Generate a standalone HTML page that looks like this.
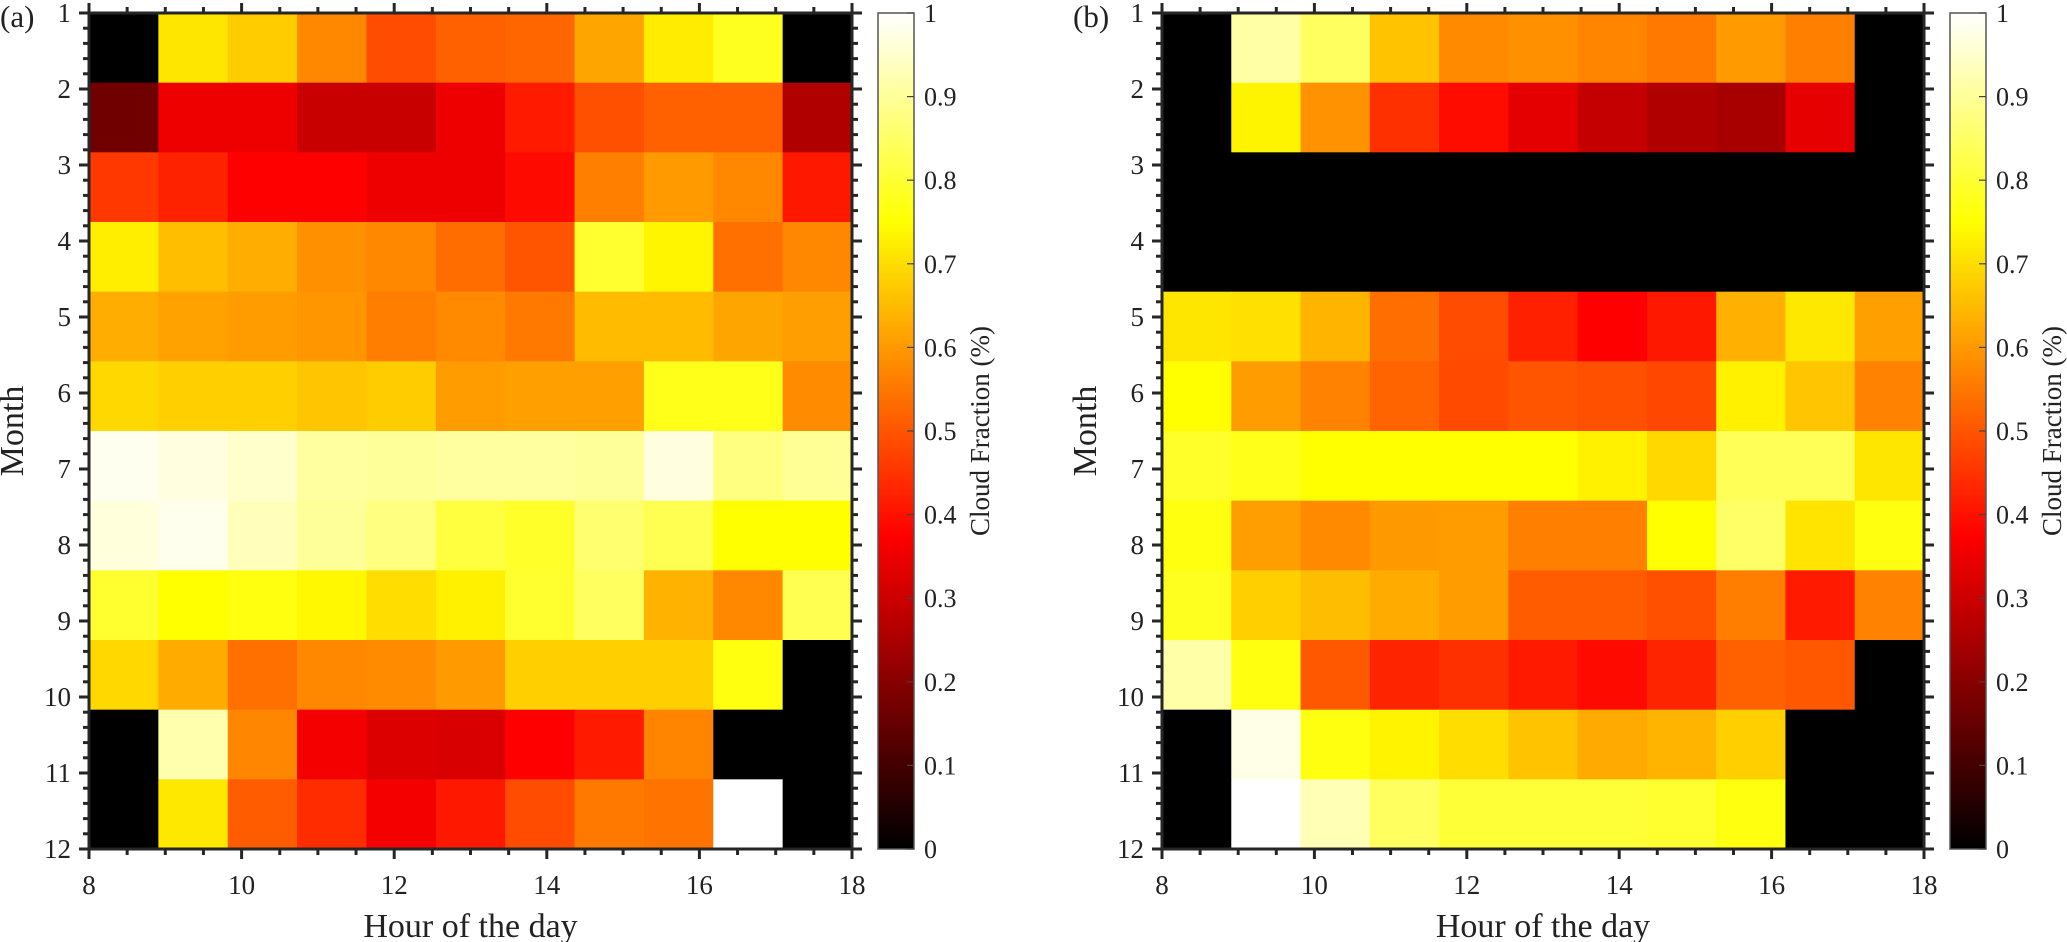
<!DOCTYPE html>
<html><head><meta charset="utf-8"><style>
html,body{margin:0;padding:0;background:#fff;}
svg{display:block;}
svg text{font-family:"Liberation Serif","DejaVu Serif",serif;}
</style></head><body>
<svg id="chart" width="2067" height="942" viewBox="0 0 2067 942" xmlns="http://www.w3.org/2000/svg" font-family="Liberation Serif, serif">
<defs>
<linearGradient id="hotgrad" x1="0" y1="1" x2="0" y2="0">
<stop offset="0" stop-color="#000"/><stop offset="0.375" stop-color="#f00"/><stop offset="0.75" stop-color="#ff0"/><stop offset="1" stop-color="#fff"/>
</linearGradient>
</defs>
</svg>
<script>
const hours = [8,9,10,11,12,13,14,15,16,17,18];
const months = [1,2,3,4,5,6,7,8,9,10,11,12];
const xTickLabels = [8,10,12,14,16,18];
const yTickLabels = [1,2,3,4,5,6,7,8,9,10,11,12];
const cbTickLabels = [0,0.1,0.2,0.3,0.4,0.5,0.6,0.7,0.8,0.9,1];
const valuesA = [
[0,.713,.675,.575,.487,.516,.525,.618,.722,.78,0],
[.165,.35,.35,.294,.294,.35,.413,.493,.516,.516,.259],
[.457,.425,.375,.375,.35,.35,.39,.563,.602,.575,.41],
[.725,.656,.63,.587,.575,.534,.5,.797,.736,.54,.575],
[.63,.613,.605,.596,.56,.578,.551,.65,.65,.618,.607],
[.693,.68,.68,.665,.675,.605,.61,.61,.775,.775,.58],
[.985,.97,.95,.907,.9,.907,.907,.9,.97,.875,.897],
[.966,.983,.933,.9,.875,.813,.79,.86,.83,.75,.75],
[.797,.75,.766,.74,.7,.73,.797,.844,.638,.575,.83],
[.693,.626,.54,.575,.58,.602,.68,.68,.68,.765,0],
[0,.92,.572,.36,.325,.318,.375,.413,.57,0,0],
[0,.716,.51,.44,.36,.41,.487,.551,.545,1,0]
];
const valuesB = [
[0,.912,.844,.662,.578,.587,.57,.551,.602,.562,0],
[0,.734,.59,.446,.393,.335,.29,.259,.247,.338,0],
[0,0,0,0,0,0,0,0,0,0,0],
[0,0,0,0,0,0,0,0,0,0,0],
[.713,.704,.64,.537,.487,.422,.375,.41,.634,.716,.61],
[.75,.605,.566,.522,.484,.5,.493,.48,.73,.666,.566],
[.79,.775,.75,.75,.75,.75,.73,.693,.836,.836,.713],
[.766,.607,.578,.6,.605,.562,.562,.75,.85,.71,.766],
[.78,.68,.653,.626,.605,.51,.51,.493,.56,.413,.566],
[.915,.766,.505,.428,.446,.413,.39,.428,.516,.505,0],
[0,.977,.766,.733,.7,.662,.625,.64,.68,0,0],
[0,1,.927,.844,.805,.805,.805,.797,.766,0,0]
];

const NS = "http://www.w3.org/2000/svg";
const svg = document.getElementById('chart');
const FF = 'Liberation Serif, DejaVu Serif, serif';
function mk(tag, attrs, parent){
  const e = document.createElementNS(NS, tag);
  for (const k in attrs) e.setAttribute(k, attrs[k]);
  if (tag==='text') e.setAttribute('font-family', FF);
  (parent||svg).appendChild(e);
  return e;
}
function hot(v){
  let r,g,b;
  if (v<=0.375){r=v/0.375;g=0;b=0;}
  else if (v<=0.75){r=1;g=(v-0.375)/0.375;b=0;}
  else {r=1;g=1;b=(v-0.75)/0.25;}
  const c=x=>Math.round(Math.max(0,Math.min(1,x))*255);
  return `rgb(${c(r)},${c(g)},${c(b)})`;
}
const TOP=13, BOT=849, AXC='#262626';
function panel(left, right, data, letter, key){
  const g = mk('g', {});
  
  
  const xS = h => left + (h-8)/10*(right-left);
  const yS = m => TOP + (m-1)/11*(BOT-TOP);
  const nC = hours.length, nR = months.length;
  const cw = (right-left)/nC, rh = (BOT-TOP)/nR;
  data.forEach((row,i)=>{
    row.forEach((v,j)=>{
      const r = mk('rect', {x:(left+j*cw).toFixed(2), y:(TOP+i*rh).toFixed(2), width:(cw+0.6).toFixed(2), height:(rh+0.6).toFixed(2), fill:hot(v)}, g);
      
      
    });
  });
  for (let h=8; h<=18.001; h+=0.5){
    const maj = Math.abs(h-Math.round(h/2)*2)<1e-6;
    const L = maj?10:6, x=xS(h);
    mk('line',{x1:x,y1:BOT,x2:x,y2:BOT+L,stroke:AXC,'stroke-width':3},g);
    mk('line',{x1:x,y1:TOP,x2:x,y2:TOP-L,stroke:AXC,'stroke-width':3},g);
  }
  for (let m=1; m<=12.001; m+=0.2){
    const maj = Math.abs(m-Math.round(m))<1e-6;
    const L = maj?10:6, y=yS(m);
    mk('line',{x1:left,y1:y,x2:left-L,y2:y,stroke:AXC,'stroke-width':3},g);
    mk('line',{x1:right,y1:y,x2:right+L,y2:y,stroke:AXC,'stroke-width':3},g);
  }
  const box = mk('rect',{x:left,y:TOP,width:right-left,height:BOT-TOP,fill:'none',stroke:AXC,'stroke-width':3},g);
  
  
  xTickLabels.forEach(h=>{
    const t = mk('text',{x:xS(h),y:894,'text-anchor':'middle','font-size':27,fill:'#222'},g);
    t.textContent = h;
    
    
  });
  yTickLabels.forEach(m=>{
    const t = mk('text',{x:left-18,y:yS(m)+9,'text-anchor':'end','font-size':27,fill:'#222'},g);
    t.textContent = m;
    
    
  });
  const xt = mk('text',{x:(left+right)/2,y:937,'text-anchor':'middle','font-size':34,fill:'#222'},g);
  xt.textContent='Hour of the day';
  
  
  const yt = mk('text',{x:0,y:0,'text-anchor':'middle','font-size':34,fill:'#222',transform:`translate(${left-66},431) rotate(-90)`},g);
  yt.textContent='Month';
  
  
  const pl = mk('text',{x:left-89,y:27,'font-size':31,fill:'#222'},g);
  pl.textContent='('+letter+')';
  
  
  const cx0 = right+26, cx1 = right+62;
  const cb = mk('rect',{x:cx0,y:TOP,width:cx1-cx0,height:BOT-TOP,fill:'url(#hotgrad)',stroke:'#555','stroke-width':1.5},g);
  
  
  const cS = v => BOT - v*(BOT-TOP);
  cbTickLabels.forEach(v=>{
    mk('line',{x1:cx1,y1:cS(v),x2:cx1-7,y2:cS(v),stroke:'#444','stroke-width':1.2},g);
    const t = mk('text',{x:cx1+10,y:cS(v)+9,'font-size':26,fill:'#222'},g);
    t.textContent = v;
    
    
  });
  const ct = mk('text',{x:0,y:0,'text-anchor':'middle','font-size':27,fill:'#222',transform:`translate(${right+137},431) rotate(-90)`},g);
  ct.textContent='Cloud Fraction (%)';
  
  
}
panel(89, 852, valuesA, 'a', 'a');
panel(1162, 1924, valuesB, 'b', 'b');
</script>
</body></html>
